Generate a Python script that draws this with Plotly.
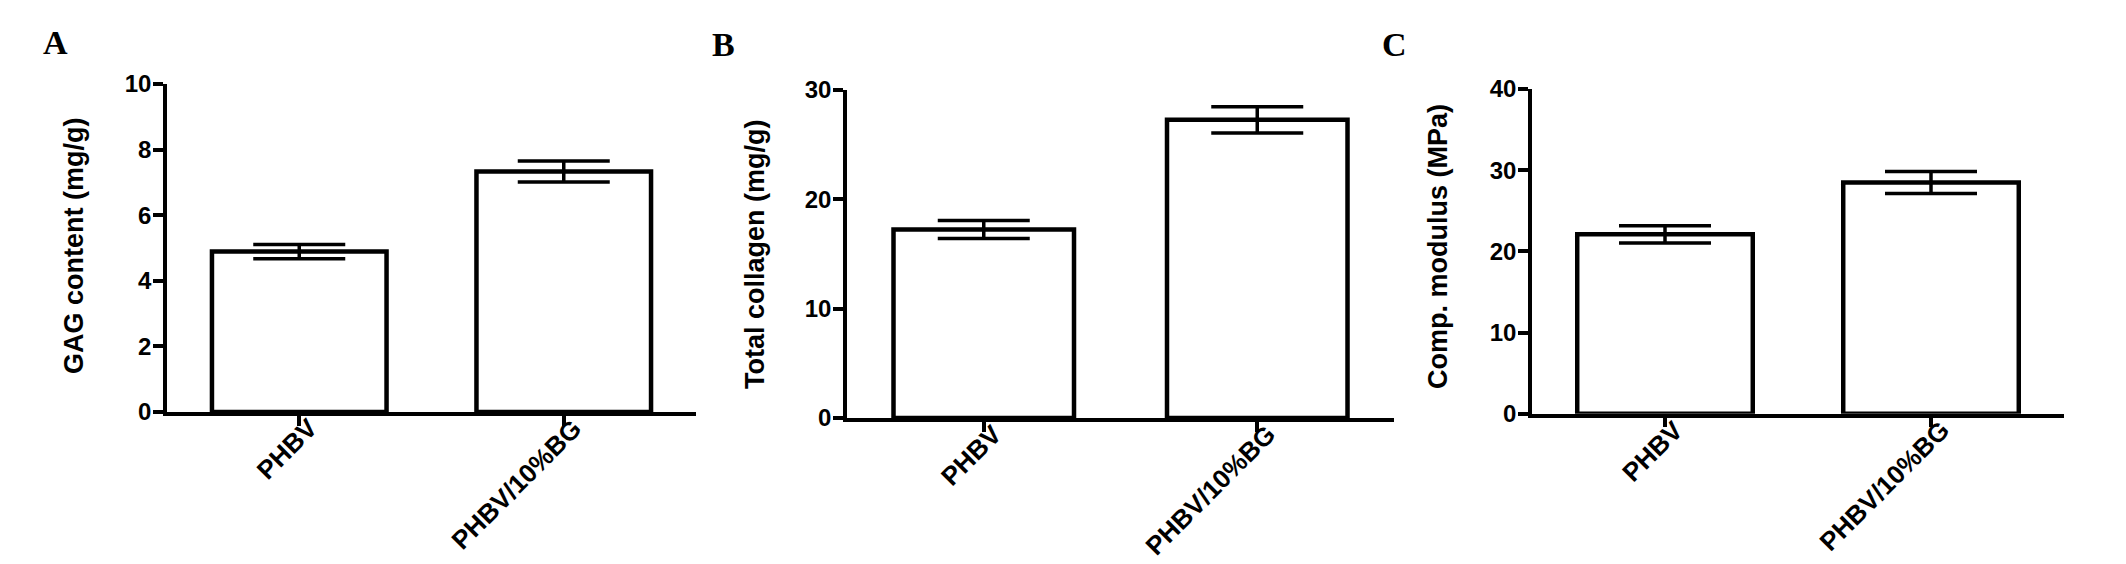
import plotly.graph_objects as go

# ---- data ----
categories = ["PHBV", "PHBV/10%BG"]

gag_mean = [4.89, 7.33]
gag_err = [0.22, 0.32]

collagen_mean = [17.24, 27.27]
collagen_err = [0.82, 1.20]

modulus_mean = [22.1, 28.48]
modulus_err = [1.06, 1.35]

titles = ["GAG content (mg/g)", "Total collagen (mg/g)", "Comp. modulus (MPa)"]
panel_letters = ["A", "B", "C"]
y_ranges = [[0, 10], [0, 30], [0, 40]]
y_dticks = [2, 10, 10]

W, H = 2126, 564

# layout geometry in pixels: (x_left, x_right, y_bottom, y_top)
geom = [
    (167, 696, 412, 84),
    (847, 1394, 418, 90),
    (1532, 2064, 413.7, 89),
]
title_pos = [(74, 246), (755, 254), (1438, 247)]
letter_pos = [(55, 42), (723, 44), (1394, 44)]
LABEL_DX, LABEL_DY = 27, -2  # offset of rotated category label box from tick

FONT = "Liberation Sans, Arial, sans-serif"
SERIF = "Liberation Serif, Times New Roman, serif"

fig = go.Figure()
means = [gag_mean, collagen_mean, modulus_mean]
errs = [gag_err, collagen_err, modulus_err]

layout = dict(
    template="none",
    width=W, height=H,
    margin=dict(l=0, r=0, t=0, b=0, autoexpand=False),
    paper_bgcolor="white", plot_bgcolor="white",
    showlegend=False,
    annotations=[],
)

for i in range(3):
    xa = "x" if i == 0 else f"x{i+1}"
    ya = "y" if i == 0 else f"y{i+1}"
    fig.add_trace(go.Bar(
        x=categories, y=means[i],
        xaxis=xa, yaxis=ya,
        width=0.66,
        marker=dict(color="white", line=dict(color="black", width=4.5)),
        error_y=dict(type="data", array=errs[i], visible=True,
                     color="black", thickness=3.5, width=46),
    ))
    xl, xr, yb, yt = geom[i]
    xkey = "xaxis" if i == 0 else f"xaxis{i+1}"
    ykey = "yaxis" if i == 0 else f"yaxis{i+1}"
    layout[xkey] = dict(
        domain=[xl / W, xr / W],
        anchor=ya,
        range=[-0.5, 1.5],
        automargin=False,
        showline=True, linecolor="black", linewidth=3.5,
        ticks="outside", ticklen=10, tickwidth=3.5, tickcolor="black",
        showticklabels=False,
        showgrid=False, zeroline=False,
    )
    layout[ykey] = dict(
        domain=[1 - yb / H, 1 - yt / H],
        anchor=xa,
        range=y_ranges[i],
        dtick=y_dticks[i], tick0=0,
        automargin=False,
        showline=True, linecolor="black", linewidth=3.5,
        ticks="outside", ticklen=10, tickwidth=3.5, tickcolor="black",
        ticklabelstandoff=-3,
        tickfont=dict(family=FONT, size=24, color="black", weight="bold"),
        showgrid=False, zeroline=False,
    )
    # rotated category labels
    for k, cat in enumerate(categories):
        layout["annotations"].append(dict(
            text=cat, xref=xa, yref="paper",
            x=k, y=1 - (yb + LABEL_DY) / H,
            xshift=LABEL_DX,
            xanchor="right", yanchor="top",
            textangle=-45, showarrow=False,
            font=dict(family=FONT, size=26, color="black", weight="bold"),
        ))
    tx, ty = title_pos[i]
    layout["annotations"].append(dict(
        text=titles[i], xref="paper", yref="paper",
        x=tx / W, y=1 - ty / H, xanchor="center", yanchor="middle",
        textangle=-90, showarrow=False,
        font=dict(family=FONT, size=27, color="black", weight="bold"),
    ))
    lx, ly = letter_pos[i]
    layout["annotations"].append(dict(
        text=panel_letters[i], xref="paper", yref="paper",
        x=lx / W, y=1 - ly / H, xanchor="center", yanchor="middle",
        showarrow=False,
        font=dict(family=SERIF, size=34, color="black", weight="bold"),
    ))

fig.update_layout(**layout)
fig.write_html(
    "out.html",
    config={"displayModeBar": False},
    post_script="document.body.style.margin='0';document.body.style.padding='0';",
)
